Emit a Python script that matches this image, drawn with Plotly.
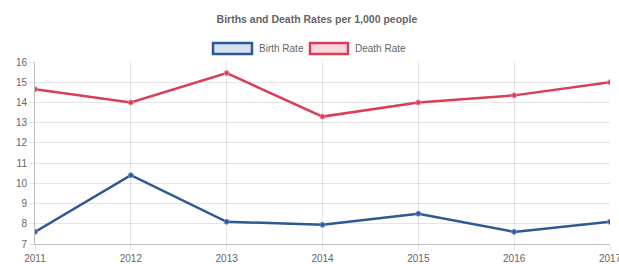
import plotly.graph_objects as go

years = [2011, 2012, 2013, 2014, 2015, 2016, 2017]
birth_rate = [7.6, 10.4, 8.1, 7.95, 8.5, 7.6, 8.1]
death_rate = [14.65, 14.0, 15.45, 13.3, 14.0, 14.35, 15.0]
y_ticks = [7, 8, 9, 10, 11, 12, 13, 14, 15, 16]

blue = "rgb(46,88,150)"
red = "rgb(217,62,86)"
blue_fill = "rgba(46,110,200,0.2)"
red_fill = "rgba(217,62,86,0.2)"

fig = go.Figure()
fig.add_trace(go.Scatter(x=years, y=birth_rate, mode="lines+markers", name="Birth Rate",
                         line=dict(color=blue, width=2.5),
                         marker=dict(size=5, color=blue, line=dict(color="rgb(120,150,200)", width=1)),
                         showlegend=False))
fig.add_trace(go.Scatter(x=years, y=death_rate, mode="lines+markers", name="Death Rate",
                         line=dict(color=red, width=2.5),
                         marker=dict(size=5, color=red, line=dict(color="rgb(235,140,155)", width=1)),
                         showlegend=False))

font = dict(family="Liberation Sans, Arial, sans-serif", size=10, color="#666")

W, H = 619, 264
L, R, T, B = 35, 9, 62, 20

fig.update_layout(
    width=W, height=H,
    margin=dict(l=L, r=R, t=T, b=B, autoexpand=False),
    paper_bgcolor="white", plot_bgcolor="white",
    font=font,
    title=dict(text="<b>Births and Death Rates per 1,000 people</b>", x=0.512, xanchor="center",
               y=1 - 19 / H, yanchor="middle", font=dict(size=10.5, color="#666")),
    xaxis=dict(range=[2011, 2017], tickmode="array", tickvals=years, ticktext=[str(y) for y in years],
               showgrid=True, gridcolor="rgba(0,0,0,0.1)", zeroline=False, automargin=False,
               ticklabeloverflow="allow",
               showline=True, linecolor="rgba(0,0,0,0.25)", linewidth=1,
               ticks="outside", ticklen=5, tickcolor="rgba(0,0,0,0.1)", tickfont=font),
    yaxis=dict(range=[7, 16], tickmode="array", tickvals=y_ticks, automargin=False,
               showgrid=True, gridcolor="rgba(0,0,0,0.1)", zeroline=False,
               showline=True, linecolor="rgba(0,0,0,0.25)", linewidth=1,
               ticks="outside", ticklen=5, tickcolor="rgba(0,0,0,0.1)", tickfont=font),
)

PW, PH = W - L - R, H - T - B

def px_x(p):
    return (p - L) / PW

def px_y(p):
    return (H - B - p) / PH

legend_items = [("Birth Rate", blue, blue_fill, 213, 252, 257),
                ("Death Rate", red, red_fill, 310, 348, 353)]
for label, col, fill, x0, x1, tx in legend_items:
    fig.add_shape(type="rect", xref="paper", yref="paper",
                  x0=px_x(x0), x1=px_x(x1), y0=px_y(54), y1=px_y(43),
                  line=dict(color=col, width=2.5), fillcolor=fill)
    fig.add_annotation(xref="paper", yref="paper", x=px_x(tx), y=px_y(48.5), text=label,
                       showarrow=False, xanchor="left", yanchor="middle", font=font)

fig.write_html("out.html", config={"displayModeBar": False},
               post_script="document.body.style.margin='0';document.body.style.overflow='hidden';")
